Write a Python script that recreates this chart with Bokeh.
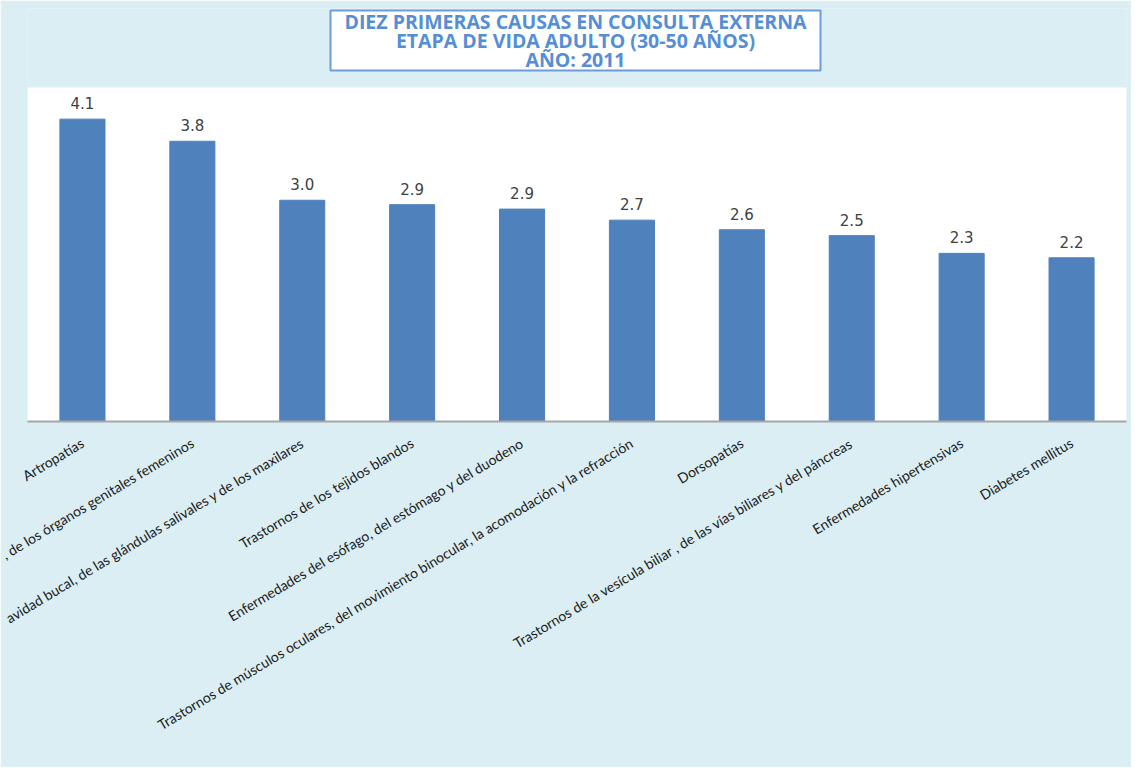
import math
from bokeh.plotting import figure
from bokeh.models import ColumnDataSource, FactorRange, Range1d, Label, BoxAnnotation
from bokeh.core.properties import value
from bokeh.embed import file_html
from bokeh.resources import INLINE

categories = [
    "Artropatías",
    ", de los órganos genitales femeninos",
    "avidad bucal, de las glándulas salivales y de los maxilares",
    "Trastornos de los tejidos blandos",
    "Enfermedades del esófago, del estómago y del duodeno",
    "Trastornos de músculos oculares, del movimiento binocular, la acomodación y la refracción",
    "Dorsopatías",
    "Trastornos de la vesícula biliar , de las vías biliares y del páncreas",
    "Enfermedades hipertensivas",
    "Diabetes mellitus",
]
values = [4.1, 3.8, 3.0, 2.94, 2.88, 2.73, 2.6, 2.52, 2.28, 2.22]
value_labels = ["4.1", "3.8", "3.0", "2.9", "2.9", "2.7", "2.6", "2.5", "2.3", "2.2"]
title_text = "DIEZ PRIMERAS CAUSAS EN CONSULTA EXTERNA\nETAPA DE VIDA ADULTO (30-50 AÑOS)\nAÑO: 2011"

BG = "#DAEEF3"
BAR = "#4F81BD"
PLOT_TOP = 4.53      # top of the white plotting area (value units)
FRAME_TOP = 5.60     # frame extends above it to hold the title box

src = ColumnDataSource(dict(cat=categories, val=values, lab=value_labels))

p = figure(
    x_range=FactorRange(*categories, range_padding=0),
    y_range=Range1d(0, FRAME_TOP),
    width=1131, height=767,
    output_backend="svg", toolbar_location=None,
    min_border_left=27, min_border_right=5, min_border_top=8, min_border_bottom=346,
)
p.background_fill_color = BG
p.border_fill_color = BG
p.outline_line_color = None
p.grid.visible = False
p.yaxis.visible = False

# white plotting area
p.add_layout(BoxAnnotation(bottom=0, top=PLOT_TOP, fill_color="white", fill_alpha=1.0,
                           line_color=None, level="underlay"))

p.vbar(x="cat", top="val", width=0.41, source=src, fill_color=BAR, line_color=BAR)
p.text(x="cat", y="val", text="lab", source=src, y_offset=-10,
       text_align="center", text_baseline="bottom",
       text_font=value("DejaVu Sans"), text_font_size="15px", text_color="#404040")

ax = p.xaxis[0]
ax.axis_line_color = "#A6A6A6"
ax.axis_line_width = 2
ax.major_tick_line_color = None
ax.minor_tick_line_color = None
ax.major_tick_out = 0
ax.major_tick_in = 0
ax.major_label_standoff = 20
ax.major_label_orientation = math.radians(31)
ax.major_label_text_font = "Lato"
ax.major_label_text_font_size = "14px"
ax.major_label_text_color = "#1a1a1a"

# title box
p.add_layout(BoxAnnotation(left=303, right=793, bottom=351, top=411,
                           left_units="screen", right_units="screen",
                           bottom_units="screen", top_units="screen",
                           fill_color="white", fill_alpha=1.0,
                           line_color="#6E9BDB", line_alpha=1.0, line_width=2))
p.add_layout(Label(
    x=548, y=381, x_units="screen", y_units="screen",
    text=title_text, text_align="center", text_baseline="middle",
    text_font="Open Sans", text_font_style="bold", text_font_size="19.5px",
    text_color="#558ED5", text_line_height=0.72,
))

open("out.html", "w").write(file_html(p, INLINE))
